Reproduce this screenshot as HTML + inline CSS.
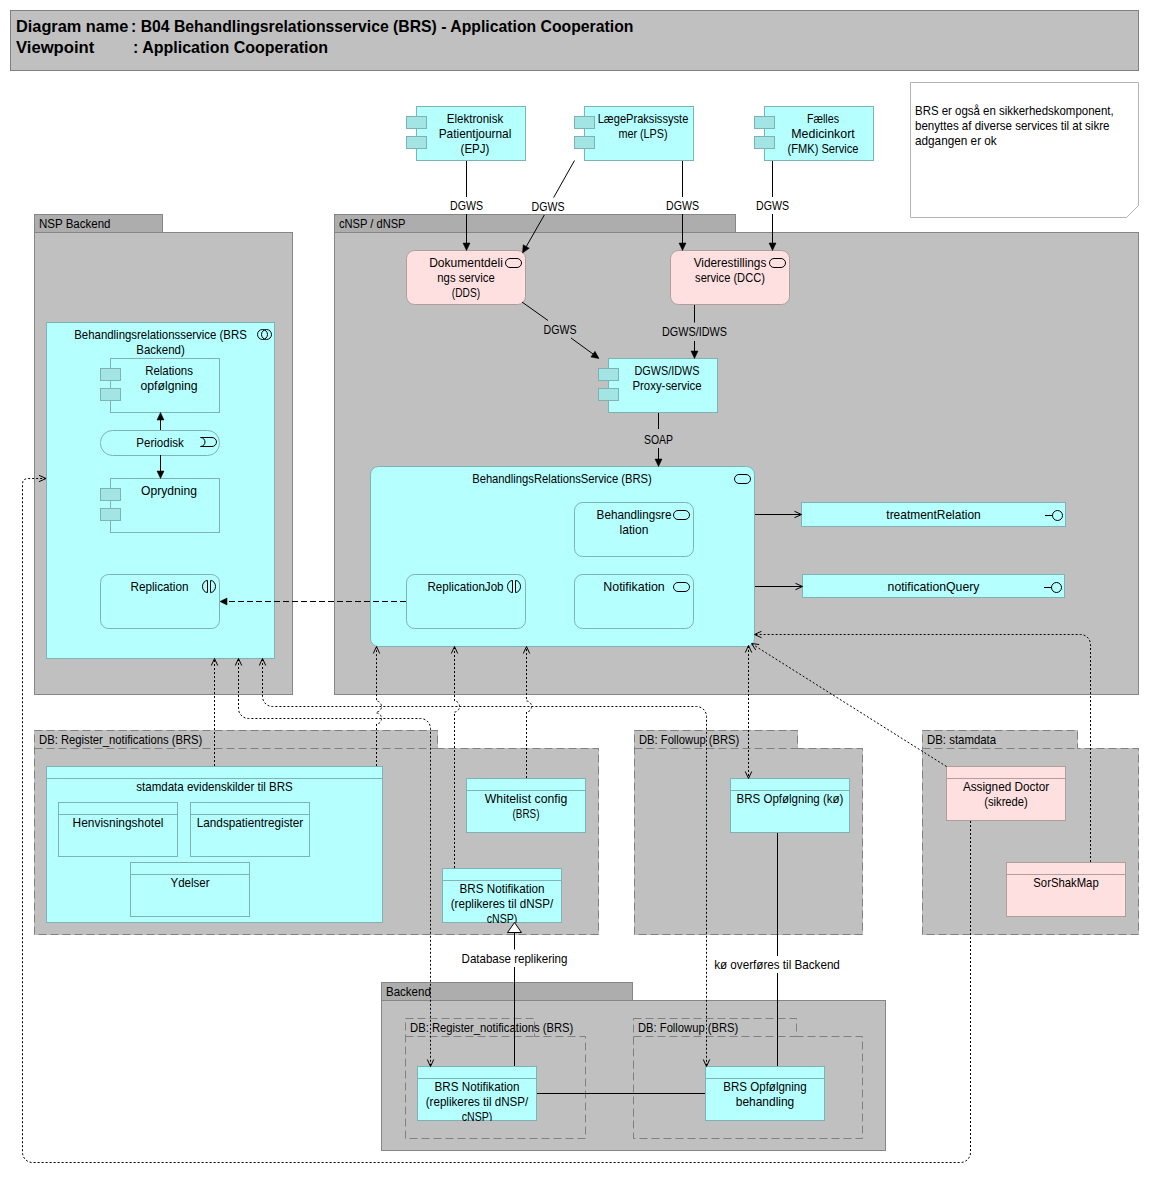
<!DOCTYPE html>
<html><head><meta charset="utf-8"><style>
html,body{margin:0;padding:0;background:#fff;width:1149px;height:1183px;overflow:hidden}
svg{display:block;font-family:"Liberation Sans",sans-serif;fill:#000}
text{fill:#000}
</style></head><body>
<svg width="1149" height="1183" viewBox="0 0 1149 1183">
<rect x="10.5" y="10.5" width="1128" height="60" fill="#c0c0c0" stroke="#808080" />
<text transform="translate(16,32) scale(1.02,1)" text-anchor="start" font-size="16" font-weight="bold" >Diagram name</text>
<text transform="translate(131,32) scale(0.987,1)" text-anchor="start" font-size="16" font-weight="bold" >: B04 Behandlingsrelationsservice (BRS) - Application Cooperation</text>
<text transform="translate(16,53) scale(1.04,1)" text-anchor="start" font-size="16" font-weight="bold" >Viewpoint</text>
<text x="133" y="53" text-anchor="start" font-size="16" font-weight="bold" >: Application Cooperation</text>
<path d="M910.5,82.5 H1138.5 V205.5 L1126.5,217.5 H910.5 Z" fill="#fff" stroke="#b4b4b4"/>
<text transform="translate(915,114.5) scale(0.956,1)" text-anchor="start" font-size="12" font-weight="normal" >BRS er også en sikkerhedskomponent,</text>
<text transform="translate(915,129.5) scale(0.964,1)" text-anchor="start" font-size="12" font-weight="normal" >benyttes af diverse services til at sikre</text>
<text transform="translate(915,144.5) scale(0.981,1)" text-anchor="start" font-size="12" font-weight="normal" >adgangen er ok</text>
<rect x="34.5" y="214.5" width="128" height="18" fill="#adadad" stroke="#868686" />
<rect x="34.5" y="232.5" width="258" height="462" fill="#c0c0c0" stroke="#868686" />
<text transform="translate(39,228) scale(0.96,1)" text-anchor="start" font-size="12" font-weight="normal" >NSP Backend</text>
<rect x="334.5" y="214.5" width="401" height="18" fill="#adadad" stroke="#868686" />
<rect x="334.5" y="232.5" width="804" height="462" fill="#c0c0c0" stroke="#868686" />
<text transform="translate(339,228) scale(0.927,1)" text-anchor="start" font-size="12" font-weight="normal" >cNSP / dNSP</text>
<rect x="416.5" y="106.5" width="109" height="54" fill="#b5ffff" stroke="#7fb2b2" />
<rect x="406.5" y="116.5" width="20" height="12" fill="#a3e5e5" stroke="#7fb2b2" />
<rect x="406.5" y="136.5" width="20" height="12" fill="#a3e5e5" stroke="#7fb2b2" />
<text transform="translate(475.0,123) scale(0.961,1)" text-anchor="middle" font-size="12" font-weight="normal" >Elektronisk</text>
<text transform="translate(475.0,138) scale(0.991,1)" text-anchor="middle" font-size="12" font-weight="normal" >Patientjournal</text>
<text transform="translate(475.0,153) scale(0.96,1)" text-anchor="middle" font-size="12" font-weight="normal" >(EPJ)</text>
<rect x="584.5" y="106.5" width="109" height="54" fill="#b5ffff" stroke="#7fb2b2" />
<rect x="574.5" y="116.5" width="20" height="12" fill="#a3e5e5" stroke="#7fb2b2" />
<rect x="574.5" y="136.5" width="20" height="12" fill="#a3e5e5" stroke="#7fb2b2" />
<text transform="translate(643.0,123) scale(0.925,1)" text-anchor="middle" font-size="12" font-weight="normal" >LægePraksissyste</text>
<text transform="translate(643.0,138) scale(0.902,1)" text-anchor="middle" font-size="12" font-weight="normal" >mer (LPS)</text>
<rect x="764.5" y="106.5" width="109" height="54" fill="#b5ffff" stroke="#7fb2b2" />
<rect x="754.5" y="116.5" width="20" height="12" fill="#a3e5e5" stroke="#7fb2b2" />
<rect x="754.5" y="136.5" width="20" height="12" fill="#a3e5e5" stroke="#7fb2b2" />
<text transform="translate(823.0,123) scale(0.892,1)" text-anchor="middle" font-size="12" font-weight="normal" >Fælles</text>
<text transform="translate(823.0,138) scale(1.035,1)" text-anchor="middle" font-size="12" font-weight="normal" >Medicinkort</text>
<text transform="translate(823.0,153) scale(0.926,1)" text-anchor="middle" font-size="12" font-weight="normal" >(FMK) Service</text>
<rect x="406.5" y="250.5" width="119" height="54" rx="8" ry="8" fill="#ffe0e0" stroke="#b29d9d" />
<rect x="505.5" y="258.5" width="16" height="9" rx="4.5" ry="4.5" fill="none" stroke="#000"/>
<text transform="translate(466.0,267) scale(1.006,1)" text-anchor="middle" font-size="12" font-weight="normal" >Dokumentdeli</text>
<text transform="translate(466.0,282) scale(0.946,1)" text-anchor="middle" font-size="12" font-weight="normal" >ngs service</text>
<text transform="translate(466.0,297) scale(0.849,1)" text-anchor="middle" font-size="12" font-weight="normal" >(DDS)</text>
<rect x="670.5" y="250.5" width="119" height="54" rx="8" ry="8" fill="#ffe0e0" stroke="#b29d9d" />
<rect x="769.5" y="258.5" width="16" height="9" rx="4.5" ry="4.5" fill="none" stroke="#000"/>
<text transform="translate(730.0,267) scale(0.985,1)" text-anchor="middle" font-size="12" font-weight="normal" >Viderestillings</text>
<text transform="translate(730.0,282) scale(0.927,1)" text-anchor="middle" font-size="12" font-weight="normal" >service (DCC)</text>
<rect x="608.5" y="358.5" width="109" height="54" fill="#b5ffff" stroke="#7fb2b2" />
<rect x="598.5" y="368.5" width="20" height="12" fill="#a3e5e5" stroke="#7fb2b2" />
<rect x="598.5" y="388.5" width="20" height="12" fill="#a3e5e5" stroke="#7fb2b2" />
<text transform="translate(667.0,374.5) scale(0.903,1)" text-anchor="middle" font-size="12" font-weight="normal" >DGWS/IDWS</text>
<text transform="translate(667.0,389.5) scale(0.952,1)" text-anchor="middle" font-size="12" font-weight="normal" >Proxy-service</text>
<rect x="46.5" y="322.5" width="228" height="336" fill="#b5ffff" stroke="#7fb2b2" />
<ellipse cx="262.5" cy="334.5" rx="5" ry="5" fill="none" stroke="#000"/><ellipse cx="266.5" cy="334.5" rx="5" ry="5" fill="none" stroke="#000"/>
<text transform="translate(160.5,339) scale(0.952,1)" text-anchor="middle" font-size="12" font-weight="normal" >Behandlingsrelationsservice (BRS</text>
<text transform="translate(160.5,354) scale(0.959,1)" text-anchor="middle" font-size="12" font-weight="normal" >Backend)</text>
<rect x="110.5" y="358.5" width="109" height="54" fill="#b5ffff" stroke="#7fb2b2" />
<rect x="100.5" y="368.5" width="20" height="12" fill="#a3e5e5" stroke="#7fb2b2" />
<rect x="100.5" y="388.5" width="20" height="12" fill="#a3e5e5" stroke="#7fb2b2" />
<text transform="translate(169.0,375) scale(0.955,1)" text-anchor="middle" font-size="12" font-weight="normal" >Relations</text>
<text transform="translate(169.0,390) scale(1.02,1)" text-anchor="middle" font-size="12" font-weight="normal" >opfølgning</text>
<rect x="100.5" y="430.5" width="119" height="25" rx="12" ry="12" fill="#b5ffff" stroke="#7fb2b2" />
<path d="M200.5,437.5 H212 A4.5,4.5 0 0,1 212,446.5 H200.5 A4.5,4.5 0 0,0 200.5,437.5 Z" fill="none" stroke="#000"/>
<text transform="translate(160,446.8) scale(0.964,1)" text-anchor="middle" font-size="12" font-weight="normal" >Periodisk</text>
<rect x="110.5" y="478.5" width="109" height="54" fill="#b5ffff" stroke="#7fb2b2" />
<rect x="100.5" y="488.5" width="20" height="12" fill="#a3e5e5" stroke="#7fb2b2" />
<rect x="100.5" y="508.5" width="20" height="12" fill="#a3e5e5" stroke="#7fb2b2" />
<text transform="translate(169.0,495) scale(1.01,1)" text-anchor="middle" font-size="12" font-weight="normal" >Oprydning</text>
<rect x="100.5" y="574.5" width="119" height="54" rx="8" ry="8" fill="#b5ffff" stroke="#7fb2b2" />
<path d="M207.5,580.5 A5,6 0 0,0 207.5,592.5 Z M210.5,580.5 A5,6 0 0,1 210.5,592.5 Z" fill="none" stroke="#000"/>
<text transform="translate(159.5,591) scale(0.979,1)" text-anchor="middle" font-size="12" font-weight="normal" >Replication</text>
<rect x="370.5" y="466.5" width="384" height="180" rx="8" ry="8" fill="#b5ffff" stroke="#7fb2b2" />
<rect x="734.5" y="474.5" width="16" height="9" rx="4.5" ry="4.5" fill="none" stroke="#000"/>
<text transform="translate(562,483) scale(0.937,1)" text-anchor="middle" font-size="12" font-weight="normal" >BehandlingsRelationsService (BRS)</text>
<rect x="574.5" y="502.5" width="119" height="54" rx="8" ry="8" fill="#b5ffff" stroke="#7fb2b2" />
<rect x="673.5" y="510.5" width="16" height="9" rx="4.5" ry="4.5" fill="none" stroke="#000"/>
<text transform="translate(634.0,519) scale(0.975,1)" text-anchor="middle" font-size="12" font-weight="normal" >Behandlingsre</text>
<text transform="translate(634.0,534) scale(1.004,1)" text-anchor="middle" font-size="12" font-weight="normal" >lation</text>
<rect x="574.5" y="574.5" width="119" height="54" rx="8" ry="8" fill="#b5ffff" stroke="#7fb2b2" />
<rect x="673.5" y="582.5" width="16" height="9" rx="4.5" ry="4.5" fill="none" stroke="#000"/>
<text transform="translate(634.0,591) scale(1.036,1)" text-anchor="middle" font-size="12" font-weight="normal" >Notifikation</text>
<rect x="406.5" y="574.5" width="119" height="54" rx="8" ry="8" fill="#b5ffff" stroke="#7fb2b2" />
<path d="M512.5,580.5 A5,6 0 0,0 512.5,592.5 Z M515.5,580.5 A5,6 0 0,1 515.5,592.5 Z" fill="none" stroke="#000"/>
<text transform="translate(465.5,590.5) scale(0.967,1)" text-anchor="middle" font-size="12" font-weight="normal" >ReplicationJob</text>
<rect x="801.5" y="502.5" width="264" height="24" fill="#b5ffff" stroke="#7fb2b2" />
<line x1="1045" y1="515.5" x2="1052.5" y2="515.5" stroke="#000"/><circle cx="1057.5" cy="515.5" r="5" fill="none" stroke="#000"/>
<text transform="translate(933.5,518.5) scale(0.998,1)" text-anchor="middle" font-size="12" font-weight="normal" >treatmentRelation</text>
<rect x="802.5" y="574.5" width="262" height="23" fill="#b5ffff" stroke="#7fb2b2" />
<line x1="1044" y1="587.5" x2="1051.5" y2="587.5" stroke="#000"/><circle cx="1056.5" cy="587.5" r="5" fill="none" stroke="#000"/>
<text transform="translate(933.5,590.5) scale(1.021,1)" text-anchor="middle" font-size="12" font-weight="normal" >notificationQuery</text>
<path d="M34,730 H438 V748 H599 V935 H34 Z" fill="#c0c0c0" stroke="none"/>
<path d="M34.5,730.5 H437.5 V748.5 H598.5 V934.5 H34.5 Z" fill="none" stroke="#808080" stroke-dasharray="8,4"/>
<line x1="34.5" y1="748.5" x2="437.5" y2="748.5" stroke="#808080" stroke-dasharray="8,4"/>
<text transform="translate(39,744.2) scale(0.94,1)" text-anchor="start" font-size="12" font-weight="normal" >DB: Register_notifications (BRS)</text>
<path d="M634,730 H798 V748 H863 V935 H634 Z" fill="#c0c0c0" stroke="none"/>
<path d="M634.5,730.5 H797.5 V748.5 H862.5 V934.5 H634.5 Z" fill="none" stroke="#808080" stroke-dasharray="8,4"/>
<line x1="634.5" y1="748.5" x2="797.5" y2="748.5" stroke="#808080" stroke-dasharray="8,4"/>
<text transform="translate(639,744.2) scale(0.934,1)" text-anchor="start" font-size="12" font-weight="normal" >DB: Followup (BRS)</text>
<path d="M922,730 H1078 V748 H1139 V935 H922 Z" fill="#c0c0c0" stroke="none"/>
<path d="M922.5,730.5 H1077.5 V748.5 H1138.5 V934.5 H922.5 Z" fill="none" stroke="#808080" stroke-dasharray="8,4"/>
<line x1="922.5" y1="748.5" x2="1077.5" y2="748.5" stroke="#808080" stroke-dasharray="8,4"/>
<text transform="translate(927,744.2) scale(0.952,1)" text-anchor="start" font-size="12" font-weight="normal" >DB: stamdata</text>
<rect x="46.5" y="766.5" width="336" height="156" fill="#b5ffff" stroke="#7fb2b2" />
<line x1="46" y1="778.5" x2="383" y2="778.5" stroke="#7fb2b2"/>
<text transform="translate(214.5,791) scale(0.963,1)" text-anchor="middle" font-size="12" font-weight="normal" >stamdata evidenskilder til BRS</text>
<rect x="58.5" y="802.5" width="119" height="54" fill="#b5ffff" stroke="#7fb2b2" />
<line x1="58" y1="814.5" x2="178" y2="814.5" stroke="#7fb2b2"/>
<text transform="translate(118.0,827) scale(0.995,1)" text-anchor="middle" font-size="12" font-weight="normal" >Henvisningshotel</text>
<rect x="190.5" y="802.5" width="119" height="54" fill="#b5ffff" stroke="#7fb2b2" />
<line x1="190" y1="814.5" x2="310" y2="814.5" stroke="#7fb2b2"/>
<text transform="translate(250.0,827) scale(0.981,1)" text-anchor="middle" font-size="12" font-weight="normal" >Landspatientregister</text>
<rect x="130.5" y="862.5" width="119" height="54" fill="#b5ffff" stroke="#7fb2b2" />
<line x1="130" y1="874.5" x2="250" y2="874.5" stroke="#7fb2b2"/>
<text transform="translate(190.0,887) scale(0.96,1)" text-anchor="middle" font-size="12" font-weight="normal" >Ydelser</text>
<rect x="466.5" y="778.5" width="119" height="54" fill="#b5ffff" stroke="#7fb2b2" />
<line x1="466" y1="790.5" x2="586" y2="790.5" stroke="#7fb2b2"/>
<text transform="translate(526.0,803) scale(1.022,1)" text-anchor="middle" font-size="12" font-weight="normal" >Whitelist config</text>
<text transform="translate(526.0,818) scale(0.823,1)" text-anchor="middle" font-size="12" font-weight="normal" >(BRS)</text>
<rect x="442.5" y="868.5" width="119" height="54" fill="#b5ffff" stroke="#7fb2b2" />
<line x1="442" y1="880.5" x2="562" y2="880.5" stroke="#7fb2b2"/>
<clipPath id="c1"><rect x="442" y="868" width="120" height="55"/></clipPath><g clip-path="url(#c1)">
<text transform="translate(502.0,893) scale(0.973,1)" text-anchor="middle" font-size="12" font-weight="normal" >BRS Notifikation</text>
<text transform="translate(502.0,908) scale(0.968,1)" text-anchor="middle" font-size="12" font-weight="normal" >(replikeres til dNSP/</text>
<text transform="translate(502.0,923) scale(0.883,1)" text-anchor="middle" font-size="12" font-weight="normal" >cNSP)</text>
</g>
<rect x="730.5" y="778.5" width="119" height="54" fill="#b5ffff" stroke="#7fb2b2" />
<line x1="730" y1="790.5" x2="850" y2="790.5" stroke="#7fb2b2"/>
<text transform="translate(790.0,803) scale(0.96,1)" text-anchor="middle" font-size="12" font-weight="normal" >BRS Opfølgning (kø)</text>
<rect x="946.5" y="766.5" width="119" height="54" fill="#ffe0e0" stroke="#b29d9d" />
<line x1="946" y1="778.5" x2="1066" y2="778.5" stroke="#b29d9d"/>
<text transform="translate(1006.0,791) scale(0.98,1)" text-anchor="middle" font-size="12" font-weight="normal" >Assigned Doctor</text>
<text transform="translate(1006.0,806) scale(0.936,1)" text-anchor="middle" font-size="12" font-weight="normal" >(sikrede)</text>
<rect x="1006.5" y="862.5" width="119" height="54" fill="#ffe0e0" stroke="#b29d9d" />
<line x1="1006" y1="874.5" x2="1126" y2="874.5" stroke="#b29d9d"/>
<text transform="translate(1066.0,887) scale(0.944,1)" text-anchor="middle" font-size="12" font-weight="normal" >SorShakMap</text>
<rect x="381.5" y="982.5" width="251" height="18" fill="#adadad" stroke="#868686" />
<rect x="381.5" y="1000.5" width="504" height="150" fill="#c0c0c0" stroke="#868686" />
<text transform="translate(386,996) scale(0.96,1)" text-anchor="start" font-size="12" font-weight="normal" >Backend</text>
<path d="M405.5,1018.5 H534.5 V1036.5 H585.5 V1138.5 H405.5 Z" fill="none" stroke="#808080" stroke-dasharray="8,4"/>
<line x1="405.5" y1="1036.5" x2="534.5" y2="1036.5" stroke="#808080" stroke-dasharray="8,4"/>
<text transform="translate(410,1032.2) scale(0.94,1)" text-anchor="start" font-size="12" font-weight="normal" >DB: Register_notifications (BRS)</text>
<path d="M633.5,1018.5 H796.5 V1036.5 H862.5 V1138.5 H633.5 Z" fill="none" stroke="#808080" stroke-dasharray="8,4"/>
<line x1="633.5" y1="1036.5" x2="796.5" y2="1036.5" stroke="#808080" stroke-dasharray="8,4"/>
<text transform="translate(638,1032.2) scale(0.934,1)" text-anchor="start" font-size="12" font-weight="normal" >DB: Followup (BRS)</text>
<rect x="417.5" y="1066.5" width="119" height="54" fill="#b5ffff" stroke="#7fb2b2" />
<line x1="417" y1="1078.5" x2="537" y2="1078.5" stroke="#7fb2b2"/>
<clipPath id="c2"><rect x="417" y="1066" width="120" height="55"/></clipPath><g clip-path="url(#c2)">
<text transform="translate(477.0,1091) scale(0.973,1)" text-anchor="middle" font-size="12" font-weight="normal" >BRS Notifikation</text>
<text transform="translate(477.0,1106) scale(0.968,1)" text-anchor="middle" font-size="12" font-weight="normal" >(replikeres til dNSP/</text>
<text transform="translate(477.0,1121) scale(0.883,1)" text-anchor="middle" font-size="12" font-weight="normal" >cNSP)</text>
</g>
<rect x="705.5" y="1066.5" width="119" height="54" fill="#b5ffff" stroke="#7fb2b2" />
<line x1="705" y1="1078.5" x2="825" y2="1078.5" stroke="#7fb2b2"/>
<text transform="translate(765.0,1091) scale(0.962,1)" text-anchor="middle" font-size="12" font-weight="normal" >BRS Opfølgning</text>
<text transform="translate(765.0,1106) scale(0.996,1)" text-anchor="middle" font-size="12" font-weight="normal" >behandling</text>
<path d="M466.5,161 V197" fill="none" stroke="#000" stroke-width="1"/>
<path d="M466.5,214 V244" fill="none" stroke="#000" stroke-width="1"/>
<text transform="translate(466.5,210) scale(0.884,1)" text-anchor="middle" font-size="12" font-weight="normal" >DGWS</text>
<polygon points="466.5,250.5 463.0,243.0 470.0,243.0" fill="#000" stroke="#000" stroke-width="0.5"/>
<path d="M574.5,160.5 L553.6,197.6" fill="none" stroke="#000" stroke-width="1"/>
<path d="M544.3,215 L526,247" fill="none" stroke="#000" stroke-width="1"/>
<text transform="translate(548,210.5) scale(0.884,1)" text-anchor="middle" font-size="12" font-weight="normal" >DGWS</text>
<polygon points="522.5,253 523.1733023843993,244.7509598195207 529.254743275748,248.21738112758942" fill="#000" stroke="#000" stroke-width="0.5"/>
<path d="M682.5,161 V197" fill="none" stroke="#000" stroke-width="1"/>
<path d="M682.5,214 V244" fill="none" stroke="#000" stroke-width="1"/>
<text transform="translate(682.5,210) scale(0.884,1)" text-anchor="middle" font-size="12" font-weight="normal" >DGWS</text>
<polygon points="682.5,250.5 679.0,243.0 686.0,243.0" fill="#000" stroke="#000" stroke-width="0.5"/>
<path d="M772.5,161 V197" fill="none" stroke="#000" stroke-width="1"/>
<path d="M772.5,214 V244" fill="none" stroke="#000" stroke-width="1"/>
<text transform="translate(772.5,210) scale(0.884,1)" text-anchor="middle" font-size="12" font-weight="normal" >DGWS</text>
<polygon points="772.5,250.5 769.0,243.0 776.0,243.0" fill="#000" stroke="#000" stroke-width="0.5"/>
<path d="M522,302 L548,320.5" fill="none" stroke="#000" stroke-width="1"/>
<path d="M571,338 L593,354" fill="none" stroke="#000" stroke-width="1"/>
<text transform="translate(560,334) scale(0.884,1)" text-anchor="middle" font-size="12" font-weight="normal" >DGWS</text>
<polygon points="599,358.6 590.8731628098086,357.03331008680067 594.9805895485334,351.36506118736025" fill="#000" stroke="#000" stroke-width="0.5"/>
<path d="M694.5,305 V322.5" fill="none" stroke="#000" stroke-width="1"/>
<path d="M694.5,341 V352" fill="none" stroke="#000" stroke-width="1"/>
<text transform="translate(694.5,336) scale(0.903,1)" text-anchor="middle" font-size="12" font-weight="normal" >DGWS/IDWS</text>
<polygon points="694.5,358.5 691.0,351.0 698.0,351.0" fill="#000" stroke="#000" stroke-width="0.5"/>
<path d="M658.5,413 V429" fill="none" stroke="#000" stroke-width="1"/>
<path d="M658.5,448 V460" fill="none" stroke="#000" stroke-width="1"/>
<text transform="translate(658.5,444) scale(0.873,1)" text-anchor="middle" font-size="12" font-weight="normal" >SOAP</text>
<polygon points="658.5,466.5 655.0,459.0 662.0,459.0" fill="#000" stroke="#000" stroke-width="0.5"/>
<path d="M160.5,430 V419" fill="none" stroke="#000" stroke-width="1"/>
<polygon points="160.5,412.5 164.0,420.0 157.0,420.0" fill="#000" stroke="#000" stroke-width="0.5"/>
<path d="M160.5,455 V471" fill="none" stroke="#000" stroke-width="1"/>
<polygon points="160.5,478.5 157.0,471.0 164.0,471.0" fill="#000" stroke="#000" stroke-width="0.5"/>
<path d="M406,601.5 H227" fill="none" stroke="#000" stroke-width="1" stroke-dasharray="6,3"/>
<polygon points="220,601.5 227.0,598.0 227.0,605.0" fill="#000" stroke="#000" stroke-width="0.5"/>
<path d="M755,514.5 H801" fill="none" stroke="#000" stroke-width="1"/>
<polyline points="794.5,517.7 801.5,514.5 794.5,511.3" fill="none" stroke="#000"/>
<path d="M755,586.5 H802" fill="none" stroke="#000" stroke-width="1"/>
<polyline points="795.5,589.7 802.5,586.5 795.5,583.3" fill="none" stroke="#000"/>
<path d="M1090.5,862 L1090.50,644.50 C1090.50,638.98 1086.02,634.50 1080.50,634.50 L755,634.5" fill="none" stroke="#000" stroke-width="1" stroke-dasharray="2,2"/>
<polyline points="761.5,631.3 754.5,634.5 761.5,637.7" fill="none" stroke="#000"/>
<path d="M946.5,766.5 L752,644" fill="none" stroke="#000" stroke-width="1" stroke-dasharray="2,2"/>
<polyline points="759.1276893037464,644.52876425167 751.5,643.5 755.7127042359621,649.9415155841082" fill="none" stroke="#000"/>
<path d="M748.5,646 V778" fill="none" stroke="#000" stroke-width="1" stroke-dasharray="2,2"/>
<polyline points="751.7,652.5 748.5,645.5 745.3,652.5" fill="none" stroke="#000"/>
<polyline points="745.3,771.5 748.5,778.5 751.7,771.5" fill="none" stroke="#000"/>
<path d="M970.5,821 L970.50,1152.50 C970.50,1158.02 966.02,1162.50 960.50,1162.50 L32.50,1162.50 C26.98,1162.50 22.50,1158.02 22.50,1152.50 L22.50,483.50 C22.50,480.74 24.74,478.50 27.50,478.50 L46,478.5" fill="none" stroke="#000" stroke-width="1" stroke-dasharray="2,2"/>
<polyline points="39.0,481.7 46,478.5 39.0,475.3" fill="none" stroke="#000"/>
<path d="M214.5,766 V659" fill="none" stroke="#000" stroke-width="1" stroke-dasharray="2,2"/>
<polyline points="217.7,665.5 214.5,658.5 211.3,665.5" fill="none" stroke="#000"/>
<path d="M238.5,659 L238.50,708.50 C238.50,714.02 242.98,718.50 248.50,718.50 L420.50,718.50 C426.02,718.50 430.50,722.98 430.50,728.50 L430.5,1066" fill="none" stroke="#000" stroke-width="1" stroke-dasharray="2,2"/>
<polyline points="241.7,665.5 238.5,658.5 235.3,665.5" fill="none" stroke="#000"/>
<polyline points="427.3,1059.5 430.5,1066.5 433.7,1059.5" fill="none" stroke="#000"/>
<path d="M262.5,659 L262.50,696.50 C262.50,702.02 266.98,706.50 272.50,706.50 L696.50,706.50 C702.02,706.50 706.50,710.98 706.50,716.50 L706.5,1066" fill="none" stroke="#000" stroke-width="1" stroke-dasharray="2,2"/>
<polyline points="265.7,665.5 262.5,658.5 259.3,665.5" fill="none" stroke="#000"/>
<polyline points="703.3,1059.5 706.5,1066.5 709.7,1059.5" fill="none" stroke="#000"/>
<path d="M376.5,766 V724.0 A5,5.5 0 0,0 376.5,713.0 V712.0 A5,5.5 0 0,0 376.5,701.0 V647" fill="none" stroke="#000" stroke-width="1" stroke-dasharray="2,2"/>
<polyline points="379.7,653.5 376.5,646.5 373.3,653.5" fill="none" stroke="#000"/>
<path d="M454.5,868 V712.0 A5,5.5 0 0,0 454.5,701.0 V647" fill="none" stroke="#000" stroke-width="1" stroke-dasharray="2,2"/>
<polyline points="457.7,653.5 454.5,646.5 451.3,653.5" fill="none" stroke="#000"/>
<path d="M526.5,778 V712.0 A5,5.5 0 0,0 526.5,701.0 V647" fill="none" stroke="#000" stroke-width="1" stroke-dasharray="2,2"/>
<polyline points="529.7,653.5 526.5,646.5 523.3,653.5" fill="none" stroke="#000"/>
<path d="M777.5,833 V956" fill="none" stroke="#000" stroke-width="1"/>
<path d="M777.5,973 V1066" fill="none" stroke="#000" stroke-width="1"/>
<text transform="translate(777,968.5) scale(0.972,1)" text-anchor="middle" font-size="12" font-weight="normal" >kø overføres til Backend</text>
<path d="M514.5,1066 V967" fill="none" stroke="#000" stroke-width="1"/>
<path d="M514.5,949.5 V933" fill="none" stroke="#000" stroke-width="1"/>
<text transform="translate(514.5,963) scale(0.963,1)" text-anchor="middle" font-size="12" font-weight="normal" >Database replikering</text>
<polygon points="514.5,922.5 507.5,932.5 521.5,932.5" fill="#fff" stroke="#000"/>
<path d="M537,1093.5 H705" fill="none" stroke="#000" stroke-width="1"/>
</svg></body></html>
